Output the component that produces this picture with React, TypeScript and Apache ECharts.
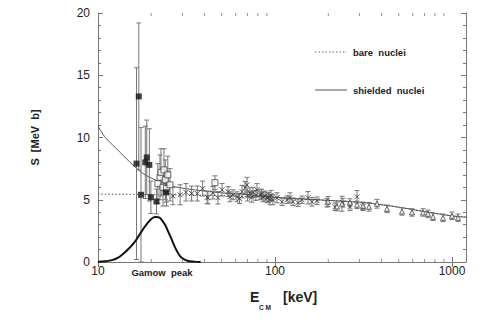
import React, { useEffect, useRef } from 'react';
import * as echarts from 'echarts';

// Axis ticks
const xTickLabels = [10, 100, 1000];
const xMinorTicks = [20, 30, 40, 50, 60, 70, 80, 90, 200, 300, 400, 500, 600, 700, 800, 900];

// Curves
const shieldedE = [10, 11, 12.5, 14, 16, 18, 21, 24, 27, 35, 50, 70, 100, 150, 200, 300, 400, 500, 700, 1000, 1200];
const shieldedS = [10.9, 10.0, 9.2, 8.5, 7.7, 7.1, 6.6, 6.3, 6.05, 5.8, 5.55, 5.4, 5.2, 5.05, 4.95, 4.8, 4.6, 4.4, 4.05, 3.7, 3.6];
const bareE = [10, 20, 50, 100, 150, 200, 300, 400, 500, 700, 1000, 1200];
const bareS = [5.45, 5.42, 5.33, 5.17, 5.04, 4.95, 4.8, 4.6, 4.4, 4.05, 3.7, 3.6];
const gamowE = [10, 11, 12, 13, 14, 15, 16, 17, 18, 19, 20, 21, 22, 23, 24, 25, 26, 27, 28, 29, 30, 32, 35, 38];
const gamowS = [0.02, 0.06, 0.15, 0.35, 0.7, 1.1, 1.55, 2.1, 2.65, 3.1, 3.45, 3.62, 3.6, 3.35, 2.95, 2.4, 1.85, 1.3, 0.85, 0.5, 0.3, 0.1, 0.03, 0.01];

// Data: filled squares
const filledE = [16.5, 17.0, 17.5, 18.5, 18.85, 19.5, 19.9, 21.4, 24.2];
const filledS = [7.9, 13.3, 5.4, 8.0, 8.4, 7.8, 5.2, 4.86, 5.6];
const filledErr = [7.7, 5.9, 5.4, 2.9, 3.0, 2.9, 1.3, 1.0, 0.8];

// Data: open squares
const openE = [21.8, 22.4, 22.7, 23.3, 23.6, 24.0, 24.4, 24.8, 25.5, 45.8];
const openS = [6.3, 6.8, 7.2, 6.0, 7.4, 6.6, 5.9, 7.0, 6.2, 6.37];
const openErr = [1.6, 1.8, 1.9, 1.5, 1.7, 1.6, 1.4, 1.5, 1.3, 0.55];

// Data: crosses
const crossE = [26.5, 29.1, 31.4, 33.8, 36.4, 39.0, 41.4, 41.8, 44.6, 47.6, 50.2, 54.3, 55.7, 58, 61.0, 63, 65.1, 67.7, 69.5, 70, 72.2, 74, 75.1, 78, 79.1, 82.3, 84, 85.6, 88, 90.1, 92, 93.7, 95, 97.4, 102.6, 109.5, 116.9, 121.5, 126.4, 134.9, 142.1, 153.6, 161.8, 172.7, 196.7, 218.3, 242.2, 265.3, 290.6, 314.2];
const crossS = [5.3, 5.4, 5.6, 5.5, 5.5, 5.9, 5.2, 5.16, 5.56, 5.16, 5.8, 5.65, 5.24, 5.4, 5.24, 5.1, 5.65, 5.97, 6.2, 5.3, 5.56, 5.2, 5.6, 5.35, 5.8, 5.4, 5.45, 5.24, 5.3, 5.16, 5.2, 5.0, 5.35, 5.0, 5.16, 4.84, 5.0, 5.16, 4.84, 4.76, 5.0, 5.16, 4.84, 4.92, 4.76, 4.44, 4.76, 4.44, 5.24, 4.44];
const crossErr = [0.7, 0.8, 0.7, 0.6, 0.6, 0.6, 0.5, 0.5, 0.5, 0.5, 0.5, 0.4, 0.4, 0.4, 0.4, 0.4, 0.5, 0.5, 0.6, 0.4, 0.4, 0.4, 0.4, 0.4, 0.5, 0.4, 0.4, 0.4, 0.4, 0.4, 0.4, 0.4, 0.4, 0.4, 0.4, 0.3, 0.3, 0.4, 0.3, 0.3, 0.3, 0.5, 0.35, 0.3, 0.35, 0.3, 0.35, 0.3, 0.5, 0.3];

// Data: triangles
const triE = [199.3, 224.0, 239.0, 265.3, 290.6, 314.2, 339.7, 376.9, 429.4, 521.9, 594.3, 685.8, 731.7, 781.1, 889.7, 1000, 1081];
const triS = [4.86, 4.46, 4.68, 4.78, 4.6, 4.52, 4.44, 4.68, 4.27, 4.06, 3.98, 3.98, 3.87, 3.63, 3.55, 3.71, 3.55];
const triErr = [0.4, 0.35, 0.6, 0.3, 0.3, 0.3, 0.35, 0.35, 0.3, 0.3, 0.3, 0.3, 0.3, 0.3, 0.3, 0.3, 0.3];

const zip2 = (a: number[], b: number[]) => a.map((v, i) => [v, b[i]]);
const zip3 = (a: number[], b: number[], c: number[]) => a.map((v, i) => [v, b[i], c[i]]);

const AX = '#777';
const FONT = 'Liberation Sans, Arial, sans-serif';

const errRender = (_p: any, api: any) => {
  const x = api.value(0), y = api.value(1), e = api.value(2);
  const lo = api.coord([x, Math.max(0, y - e)]);
  const hi = api.coord([x, y + e]);
  const w = 2.5;
  const st = { stroke: '#777', lineWidth: 1 };
  return {
    type: 'group',
    children: [
      { type: 'line', shape: { x1: lo[0], y1: lo[1], x2: hi[0], y2: hi[1] }, style: st },
      { type: 'line', shape: { x1: hi[0] - w, y1: hi[1], x2: hi[0] + w, y2: hi[1] }, style: st },
      { type: 'line', shape: { x1: lo[0] - w, y1: lo[1], x2: lo[0] + w, y2: lo[1] }, style: st },
    ],
  };
};

const errSeries = (data: number[][]) => ({
  type: 'custom',
  renderItem: errRender,
  data,
  encode: { x: 0, y: 1 },
  silent: true,
  z: 2,
  clip: false,
});

export default function App() {
  const ref = useRef<HTMLDivElement>(null);
  useEffect(() => {
    document.body.style.margin = '0';
    const chart = echarts.init(ref.current!, null, { renderer: 'svg' });
    const xBase = {
      type: 'log',
      logBase: 10,
      min: 10,
      max: 1200,
      axisLine: { show: true, lineStyle: { color: AX, width: 1 } },
      axisTick: { show: true, inside: true, length: 5, customValues: xTickLabels, lineStyle: { color: AX } },
      splitLine: { show: false },
      minorTick: { show: false },
    };
    const yBase = {
      type: 'value',
      min: 0,
      max: 20,
      interval: 5,
      axisLine: { show: true, lineStyle: { color: AX, width: 1 } },
      axisTick: { show: true, inside: true, length: 5, lineStyle: { color: AX } },
      minorTick: { show: true, splitNumber: 5, length: 3, lineStyle: { color: AX } },
      splitLine: { show: false },
    };
    chart.setOption({
      animation: false,
      backgroundColor: '#fff',
      grid: { left: 98, right: 36, top: 13, bottom: 60 },
      xAxis: [
        {
          ...xBase,
          position: 'bottom',
          axisLabel: {
            show: true,
            margin: 3,
            customValues: xTickLabels,
            formatter: (v: number) => (xTickLabels.indexOf(Math.round(v)) >= 0 ? String(Math.round(v)) : ''),
            color: '#222',
            fontSize: 12,
            fontFamily: FONT,
          },
        },
        { ...xBase, position: 'top', axisLabel: { show: false } },
      ],
      yAxis: [
        {
          ...yBase,
          position: 'left',
          name: 'S  [MeV  b]',
          nameLocation: 'middle',
          nameRotate: 90,
          nameGap: 58,
          nameTextStyle: { color: '#222', fontSize: 11, fontWeight: 'bold', fontFamily: FONT },
          axisLabel: { show: true, margin: 8, color: '#222', fontSize: 12, fontFamily: FONT },
        },
        { ...yBase, position: 'right', axisLabel: { show: false } },
      ],
      series: [
        {
          type: 'line',
          data: zip2(bareE, bareS),
          smooth: 0.3,
          showSymbol: false,
          lineStyle: { color: '#555', width: 1, type: [1.5, 2] },
          z: 1,
          silent: true,
        },
        {
          type: 'line',
          data: zip2(shieldedE, shieldedS),
          smooth: 0.3,
          showSymbol: false,
          lineStyle: { color: '#555', width: 1 },
          z: 1,
          silent: true,
        },
        {
          type: 'line',
          data: zip2(gamowE, gamowS),
          smooth: 0.4,
          showSymbol: false,
          lineStyle: { color: '#111', width: 2 },
          z: 3,
          silent: true,
        },
        errSeries(zip3(filledE, filledS, filledErr)),
        errSeries(zip3(openE, openS, openErr)),
        errSeries(zip3(crossE, crossS, crossErr)),
        errSeries(zip3(triE, triS, triErr)),
        {
          type: 'scatter',
          data: zip2(crossE, crossS),
          symbol: 'path://M0,0L8,8M8,0L0,8',
          symbolSize: 5,
          itemStyle: { color: 'none', borderColor: '#333', borderWidth: 1 },
          z: 4,
          silent: true,
        },
        {
          type: 'scatter',
          data: zip2(triE, triS),
          symbol: 'triangle',
          symbolSize: 5,
          itemStyle: { color: '#fff', borderColor: '#444', borderWidth: 1 },
          z: 4,
          silent: true,
        },
        {
          type: 'scatter',
          data: zip2(openE, openS),
          symbol: 'rect',
          symbolSize: 6,
          itemStyle: { color: '#fff', borderColor: '#444', borderWidth: 1 },
          z: 4,
          silent: true,
        },
        {
          type: 'scatter',
          data: zip2(filledE, filledS),
          symbol: 'rect',
          symbolSize: 6,
          itemStyle: { color: '#111' },
          z: 5,
          silent: true,
        },
        {
          type: 'scatter',
          data: xMinorTicks.map((v) => [v, 0]),
          symbol: 'rect',
          symbolSize: [1, 3],
          symbolOffset: [0, -1.5],
          itemStyle: { color: AX },
          clip: false,
          silent: true,
          z: 6,
        },
        {
          type: 'scatter',
          data: xMinorTicks.map((v) => [v, 20]),
          symbol: 'rect',
          symbolSize: [1, 3],
          symbolOffset: [0, 1.5],
          itemStyle: { color: AX },
          clip: false,
          silent: true,
          z: 6,
        },
      ],
      graphic: [
        { type: 'line', shape: { x1: 315, y1: 52, x2: 347, y2: 52 }, style: { stroke: '#666', lineWidth: 1, lineDash: [1.5, 2] } },
        { type: 'text', x: 353, y: 52, style: { text: 'bare  nuclei', font: `bold 9.5px ${FONT}`, fill: '#222', textVerticalAlign: 'middle' } },
        { type: 'line', shape: { x1: 315, y1: 90, x2: 347, y2: 90 }, style: { stroke: '#555', lineWidth: 1 } },
        { type: 'text', x: 353, y: 90, style: { text: 'shielded  nuclei', font: `bold 9.5px ${FONT}`, fill: '#222', textVerticalAlign: 'middle' } },
        { type: 'text', x: 162, y: 272, style: { text: 'Gamow  peak', font: `bold 9.5px ${FONT}`, fill: '#222', textAlign: 'center', textVerticalAlign: 'middle' } },
        { type: 'text', x: 250, y: 297, style: { text: 'E', font: `bold 14px ${FONT}`, fill: '#222', textVerticalAlign: 'middle' } },
        { type: 'text', x: 259, y: 307, style: { text: 'C M', font: `bold 6.5px ${FONT}`, fill: '#222', textVerticalAlign: 'middle' } },
        { type: 'text', x: 283, y: 297, style: { text: '[keV]', font: `bold 14px ${FONT}`, fill: '#222', textVerticalAlign: 'middle' } },
      ],
    });
    return () => chart.dispose();
  }, []);
  return <div ref={ref} style={{ width: 502, height: 322 }} />;
}
